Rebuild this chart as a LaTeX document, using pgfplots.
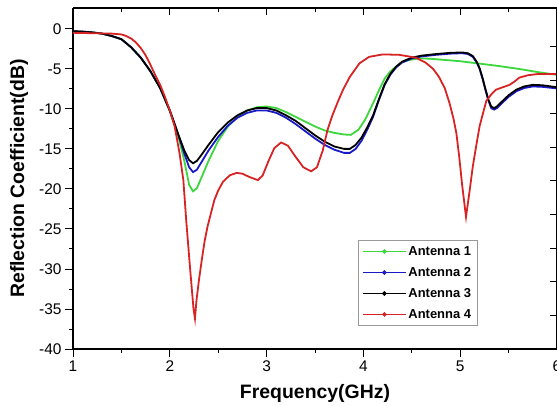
\documentclass[border=0pt]{standalone}
\usepackage{pgfplots}
\pgfplotsset{compat=1.18}
\usepackage{fontspec}
\setmainfont{Liberation Sans}
\definecolor{cgreen}{RGB}{60,215,60}
\definecolor{cblue}{RGB}{25,25,200}
\definecolor{cred}{RGB}{215,35,35}
\begin{document}
\begin{tikzpicture}
\begin{axis}[name=ax,
  scale only axis, width=484bp, height=341bp,
  xmin=1, xmax=6, ymin=-40, ymax=2.6,
  axis x line*=bottom, axis y line*=left,
  tick align=outside,
  xtick={1,2,3,4,5,6}, minor x tick num=1,
  ytick={-40,-35,-30,-25,-20,-15,-10,-5,0}, minor y tick num=1,
  major tick length=8bp, minor tick length=4bp,
  every tick/.style={black, line width=0.9pt},
  axis line style={line width=1.1pt, -},
  /pgf/number format/assume math mode=true,
  ticklabel style={font=\fontsize{15.5}{18}\selectfont},
  xlabel={\bfseries Frequency(GHz)},
  ylabel={\bfseries Reflection Coefficient(dB)},
  label style={font=\fontsize{19.5}{22}\selectfont},
  xlabel style={at={(axis description cs:0.5,-0.129)}, anchor=center},
  ylabel style={at={(axis description cs:-0.1116,0.5)}, anchor=center, rotate=0},
  legend style={at={(axis description cs:0.589,0.3196)}, anchor=north west,
    draw=gray!80, line width=0.6pt, font=\bfseries\fontsize{13}{15}\selectfont,
    row sep=6.5bp, inner sep=4bp},
  legend cell align=left,
  legend image code/.code={\draw[#1, line width=1.1pt] (0bp,0bp) -- (43bp,0bp);
    \fill[#1] (21.5bp,0bp) circle (1.2bp);},
  every axis plot/.append style={line width=1.8pt},
  clip=true,
]
\addplot[cgreen, no marks] table {
1.0 -0.35
1.1 -0.4
1.2 -0.45
1.3 -0.6
1.4 -0.9
1.5 -1.3
1.6 -2.3
1.7 -3.6
1.8 -5.3
1.9 -7.4
2.0 -10.3
2.05 -12.0
2.1 -14.0
2.15 -16.5
2.2 -19.5
2.24 -20.3
2.28 -19.9
2.33 -18.5
2.4 -16.5
2.5 -14.0
2.6 -12.2
2.7 -11.0
2.8 -10.2
2.9 -9.8
3.0 -9.7
3.1 -9.9
3.2 -10.4
3.3 -11.0
3.4 -11.6
3.5 -12.2
3.6 -12.7
3.7 -13.0
3.8 -13.2
3.87 -13.25
3.95 -12.6
4.02 -11.3
4.1 -9.3
4.16 -7.7
4.22 -6.2
4.28 -5.3
4.34 -4.7
4.4 -4.2
4.47 -3.9
4.55 -3.75
4.62 -3.7
4.7 -3.75
4.8 -3.85
5.0 -4.05
5.2 -4.35
5.4 -4.65
5.6 -5.0
5.8 -5.4
6.0 -5.75
};
\addlegendentry{Antenna 1}
\addplot[cblue, no marks] table {
1.0 -0.3
1.1 -0.35
1.2 -0.45
1.3 -0.6
1.4 -0.9
1.5 -1.3
1.6 -2.3
1.7 -3.6
1.8 -5.3
1.9 -7.4
2.0 -10.2
2.05 -11.9
2.1 -13.7
2.15 -15.6
2.2 -17.3
2.24 -17.9
2.28 -17.6
2.33 -16.6
2.4 -15.2
2.5 -13.5
2.6 -12.1
2.7 -11.1
2.8 -10.5
2.9 -10.2
3.0 -10.2
3.1 -10.5
3.2 -11.1
3.3 -11.9
3.4 -12.8
3.5 -13.7
3.6 -14.5
3.7 -15.1
3.8 -15.5
3.86 -15.5
3.92 -15.0
3.98 -14.0
4.04 -12.6
4.1 -11.0
4.16 -8.9
4.22 -7.0
4.28 -5.7
4.34 -4.8
4.4 -4.2
4.5 -3.7
4.6 -3.45
4.75 -3.25
4.9 -3.1
5.02 -3.05
5.08 -3.15
5.13 -3.5
5.17 -4.2
5.2 -5.0
5.23 -6.2
5.26 -7.6
5.29 -8.9
5.32 -9.9
5.35 -10.1
5.38 -9.9
5.43 -9.3
5.5 -8.5
5.58 -7.8
5.66 -7.4
5.75 -7.2
5.85 -7.25
6.0 -7.45
};
\addlegendentry{Antenna 2}
\addplot[black, no marks] table {
1.0 -0.3
1.1 -0.35
1.2 -0.45
1.3 -0.6
1.4 -0.9
1.5 -1.3
1.6 -2.3
1.7 -3.6
1.8 -5.3
1.9 -7.4
2.0 -10.2
2.05 -11.9
2.1 -13.6
2.15 -15.2
2.2 -16.4
2.24 -16.8
2.28 -16.5
2.33 -15.7
2.4 -14.5
2.5 -12.9
2.6 -11.7
2.7 -10.8
2.8 -10.2
2.9 -9.9
3.0 -9.9
3.1 -10.2
3.2 -10.8
3.3 -11.5
3.4 -12.4
3.5 -13.3
3.6 -14.1
3.7 -14.7
3.8 -15.0
3.86 -15.0
3.92 -14.5
3.98 -13.6
4.04 -12.3
4.1 -10.8
4.16 -8.8
4.22 -6.9
4.28 -5.6
4.34 -4.7
4.4 -4.1
4.5 -3.6
4.6 -3.35
4.75 -3.15
4.9 -3.0
5.02 -2.95
5.08 -3.05
5.13 -3.4
5.17 -4.1
5.2 -4.9
5.23 -6.1
5.26 -7.5
5.29 -8.8
5.32 -9.7
5.35 -9.9
5.38 -9.7
5.43 -9.1
5.5 -8.3
5.58 -7.6
5.66 -7.2
5.75 -7.0
5.85 -7.05
6.0 -7.3
};
\addlegendentry{Antenna 3}
\addplot[cred, no marks] table {
1.0 -0.5
1.2 -0.55
1.4 -0.6
1.5 -0.7
1.55 -0.9
1.6 -1.2
1.65 -1.7
1.7 -2.4
1.75 -3.3
1.8 -4.5
1.85 -5.8
1.9 -7.0
1.95 -8.5
2.0 -10.2
2.05 -12.2
2.1 -15.5
2.14 -18.9
2.17 -24.0
2.21 -30.0
2.245 -35.0
2.26 -36.2
2.275 -34.0
2.3 -31.5
2.33 -28.9
2.36 -26.5
2.39 -24.7
2.43 -22.8
2.46 -21.4
2.5 -20.2
2.55 -19.1
2.62 -18.3
2.69 -18.0
2.75 -18.1
2.82 -18.5
2.91 -18.9
2.96 -18.3
3.02 -16.5
3.08 -14.9
3.15 -14.2
3.22 -14.6
3.3 -16.0
3.38 -17.3
3.46 -17.8
3.52 -17.3
3.58 -15.2
3.63 -12.6
3.68 -10.8
3.74 -9.0
3.79 -7.6
3.86 -6.0
3.96 -4.3
4.06 -3.5
4.2 -3.2
4.37 -3.25
4.54 -3.6
4.64 -4.2
4.72 -5.0
4.78 -6.0
4.84 -7.4
4.89 -9.3
4.93 -11.2
4.96 -13.0
4.99 -16.0
5.02 -19.5
5.06 -23.5
5.1 -20.0
5.13 -17.2
5.16 -15.0
5.2 -12.2
5.23 -10.8
5.27 -9.0
5.32 -8.2
5.37 -7.6
5.44 -7.3
5.51 -7.0
5.56 -6.6
5.61 -6.1
5.7 -5.8
5.8 -5.65
6.0 -5.65
};
\addlegendentry{Antenna 4}
\end{axis}
\begin{axis}[
  scale only axis, width=484bp, height=341bp,
  xmin=1, xmax=6, ymin=-40, ymax=2.6,
  axis x line*=top, axis y line*=right,
  tick align=inside,
  xtick={1,2,3,4,5,6}, minor x tick num=1,
  ytick={-35.8,-31.6,-27.4,-23.2,-19.0,-14.8,-10.6,-6.4,-2.2},
  xticklabels={}, yticklabels={},
  major tick length=7bp, minor tick length=4bp,
  every tick/.style={black, line width=0.9pt},
  axis line style={line width=1.1pt, -},
]
\end{axis}
\pgfresetboundingbox
\path ([shift={(-73bp,-56bp)}]ax.south west) rectangle ([shift={(0bp,8bp)}]ax.north east);
\end{tikzpicture}
\end{document}
